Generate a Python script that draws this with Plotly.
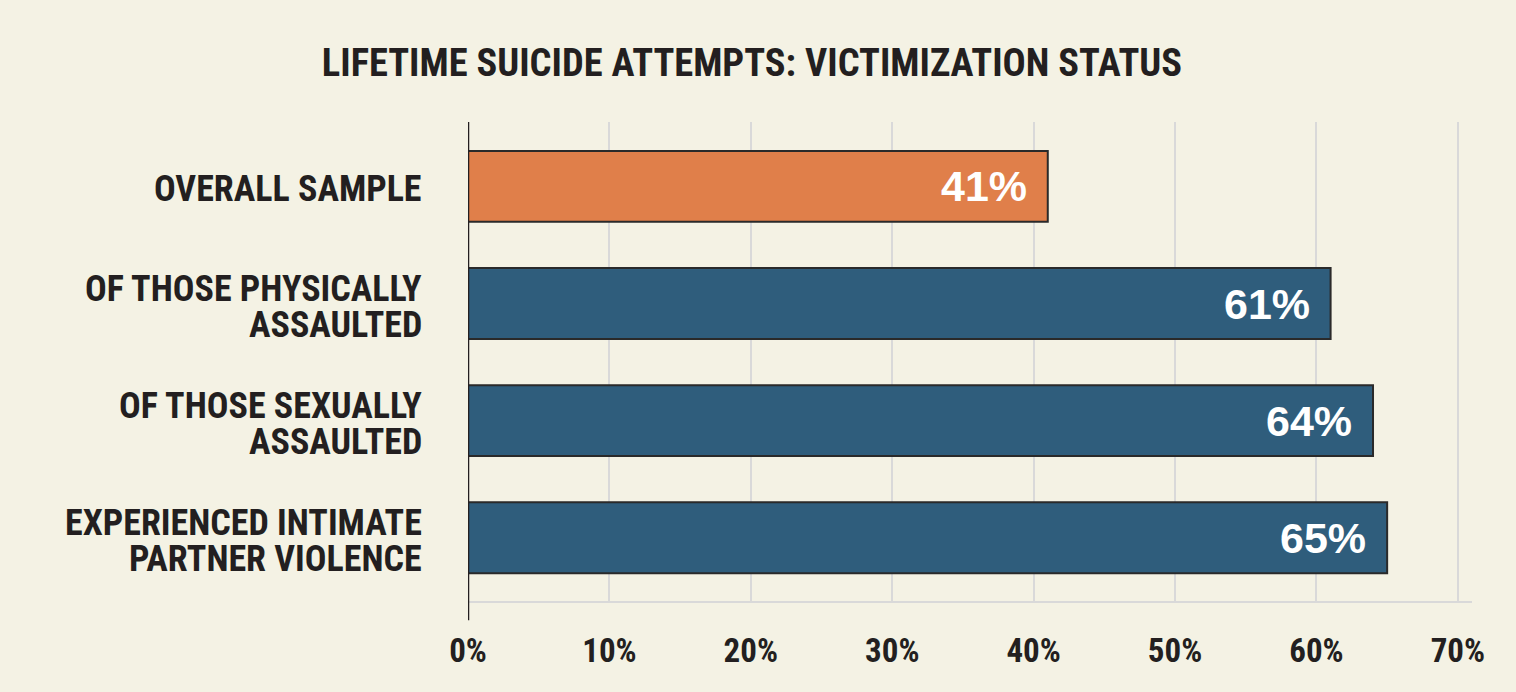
import plotly.graph_objects as go

# data
categories = ["OVERALL SAMPLE",
              "OF THOSE PHYSICALLY<br>ASSAULTED",
              "OF THOSE SEXUALLY<br>ASSAULTED",
              "EXPERIENCED INTIMATE<br>PARTNER VIOLENCE"]
values = [41, 61, 64, 65]
bar_colors = ["#E07F4A", "#2F5D7C", "#2F5D7C", "#2F5D7C"]
tick_vals = [0, 10, 20, 30, 40, 50, 60, 70]
tick_text = ["<b>" + str(t) + "%</b>" for t in tick_vals]

bg = "#F4F2E4"
ink = "#231F20"
narrow = "Liberation Sans Narrow, Roboto Condensed, DejaVu Sans Condensed, sans-serif"

fig = go.Figure(go.Bar(
    x=values,
    y=categories,
    orientation="h",
    marker=dict(color=bar_colors, line=dict(color="#2a2a2a", width=2)),
    hoverinfo="skip",
))

# value labels inside bar ends
for c, v in zip(categories, values):
    fig.add_annotation(x=v, y=c, text="<b>" + str(v) + "%</b>",
                       xanchor="right", xshift=-19, showarrow=False,
                       font=dict(family="Liberation Sans, Arial, sans-serif",
                                 size=43, color="white"))

# category labels, tight line spacing like the original
for c in categories:
    lines = c.split("<br>")
    n = len(lines)
    for i, ln in enumerate(lines):
        fig.add_annotation(x=0, xref="paper", y=c, text="<b>" + ln + "</b>",
                           xanchor="right", xshift=-44,
                           yshift=(n - 1) * 18 - i * 36 - 3, showarrow=False,
                           font=dict(family=narrow, size=36, color=ink))

# dark axis line at 0, runs a bit below the plot
fig.add_shape(type="line", xref="x", yref="paper", x0=0, x1=0, y0=-0.04, y1=1,
              line=dict(color=ink, width=2.5))

fig.update_layout(
    width=1516, height=692,
    paper_bgcolor=bg, plot_bgcolor=bg,
    margin=dict(l=468, r=44, t=122, b=91),
    bargap=0.395,
    showlegend=False,
    title=dict(text="<b>LIFETIME SUICIDE ATTEMPTS: VICTIMIZATION STATUS</b>",
               x=0.496, xanchor="center", y=0.91, yanchor="middle",
               font=dict(family=narrow, size=38.5, color=ink)),
    xaxis=dict(range=[0, 71], tickvals=tick_vals, ticktext=tick_text,
               showgrid=True, gridcolor="#D9D9D9", gridwidth=2,
               zeroline=False, showline=True, linecolor="#D9D9D9", linewidth=2,
               ticks="", ticklabelstandoff=19,
               tickfont=dict(family=narrow, size=33, color=ink)),
    yaxis=dict(categoryorder="array", categoryarray=categories,
               range=[3.54, -0.55], showticklabels=False,
               showgrid=False, zeroline=False),
)

fig.write_html("out.html", config={"displayModeBar": False},
               post_script="document.body.style.margin='0';")
